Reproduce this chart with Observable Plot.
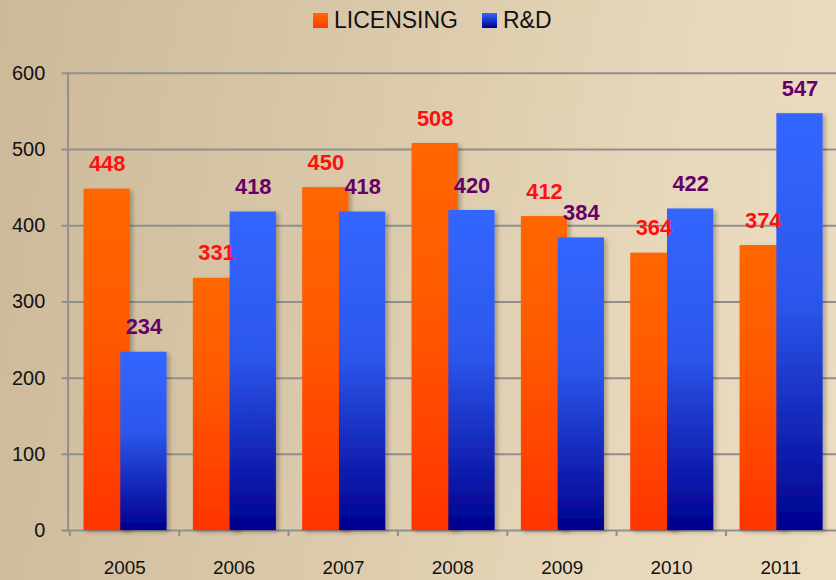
<!DOCTYPE html>
<html>
<head>
<meta charset="utf-8">
<script src="https://cdn.jsdelivr.net/npm/d3@7"></script>
<script src="https://cdn.jsdelivr.net/npm/@observablehq/plot@0.6"></script>
<style>
html, body { margin: 0; padding: 0; width: 836px; height: 580px; overflow: hidden; }
body {
  background: linear-gradient(100deg, #cdb99a 0%, #d9c8a9 40%, #e8d8bb 75%, #ecdcc0 100%);
  font-family: "Liberation Sans", Arial, sans-serif;
}
#legend { height: 40px; display: flex; align-items: center; padding-left: 313px; box-sizing: border-box; font-size: 23px; color: #111; }
#legend .sw { width: 15px; height: 15px; display: inline-block; margin-right: 6px; }
#legend .item { display: flex; align-items: center; margin-right: 24px; }
svg { display: block; }
</style>
</head>
<body>
<div id="legend">
  <div class="item"><span class="sw" style="background:linear-gradient(#ff6a00,#ff3a00)"></span>LICENSING</div>
  <div class="item"><span class="sw" style="background:linear-gradient(#3366ff,#000090)"></span>R&amp;D</div>
</div>
<div id="chart"></div>
<script>
const years = ["2005", "2006", "2007", "2008", "2009", "2010", "2011"];
const licensing = [448, 331, 450, 508, 412, 364, 374];
const rnd = [234, 418, 418, 420, 384, 422, 547];
const yTicks = [0, 100, 200, 300, 400, 500, 600];

const licData = years.map((y, i) => ({year: y, value: licensing[i]}));
const rndData = years.map((y, i) => ({year: y, value: rnd[i]}));

const W = 841, H = 540, ML = 68, MR = 0, MT = 33, MB = 47;
const bw = (W - ML - MR) / years.length;
const grid = "#8f8f8f";

const chart = Plot.plot({
  width: W, height: H,
  marginLeft: ML, marginRight: MR, marginTop: MT, marginBottom: MB,
  style: {background: "transparent", fontFamily: "'Liberation Sans', Arial, sans-serif", overflow: "visible"},
  x: {domain: years, padding: 0, axis: null},
  y: {domain: [0, 600], axis: null},
  marks: [
    Plot.gridY(yTicks, {stroke: grid, strokeOpacity: 1, strokeWidth: 2}),
    Plot.axisY(yTicks, {tickSize: 6, tickPadding: 17, stroke: grid, strokeWidth: 2, fontSize: 20, fill: "#111", tickFormat: d => d, label: null}),
    Plot.frame({anchor: "left", stroke: grid, strokeWidth: 2}),
    Plot.axisX({tickSize: 6, stroke: grid, strokeWidth: 2, dx: -bw / 2, tickFormat: () => "", label: null}),
    Plot.axisX({tickSize: 0, tickPadding: 30, fontSize: 19, fill: "#111", label: null}),
    Plot.barY(licData, {x: "year", y: "value", fill: "url(#gradO)", insetLeft: 14, insetRight: bw - 61, className: "bars"}),
    Plot.barY(rndData, {x: "year", y: "value", fill: "url(#gradB)", insetLeft: 51, insetRight: bw - 98, className: "bars"}),
    Plot.text(licData, {x: "year", y: "value", text: d => String(d.value), dx: 37.5 - bw / 2, dy: -18, lineAnchor: "bottom", fill: "#ff1010", fontSize: 22, fontWeight: "bold"}),
    Plot.text(rndData, {x: "year", y: "value", text: d => String(d.value), dx: 74.5 - bw / 2, dy: -18, lineAnchor: "bottom", fill: "#660066", fontSize: 22, fontWeight: "bold"})
  ]
});

const svg = d3.select(chart);
const defs = svg.insert("defs", ":first-child");
const gO = defs.append("linearGradient").attr("id", "gradO").attr("x1", 0).attr("y1", 0).attr("x2", 0).attr("y2", 1);
gO.append("stop").attr("offset", "0%").attr("stop-color", "#ff6600");
gO.append("stop").attr("offset", "40%").attr("stop-color", "#ff5a00");
gO.append("stop").attr("offset", "100%").attr("stop-color", "#ff3400");
const gB = defs.append("linearGradient").attr("id", "gradB").attr("x1", 0).attr("y1", 0).attr("x2", 0).attr("y2", 1);
gB.append("stop").attr("offset", "0%").attr("stop-color", "#3366ff");
gB.append("stop").attr("offset", "45%").attr("stop-color", "#2c57ec");
gB.append("stop").attr("offset", "100%").attr("stop-color", "#00008e");
const f = defs.append("filter").attr("id", "shadow").attr("x", "-20%").attr("y", "-5%").attr("width", "140%").attr("height", "115%");
f.append("feDropShadow").attr("dx", 3).attr("dy", 2).attr("stdDeviation", 2).attr("flood-color", "#000").attr("flood-opacity", 0.25);
svg.selectAll("g.bars").attr("filter", "url(#shadow)");

document.getElementById("chart").appendChild(chart);
</script>
</body>
</html>
